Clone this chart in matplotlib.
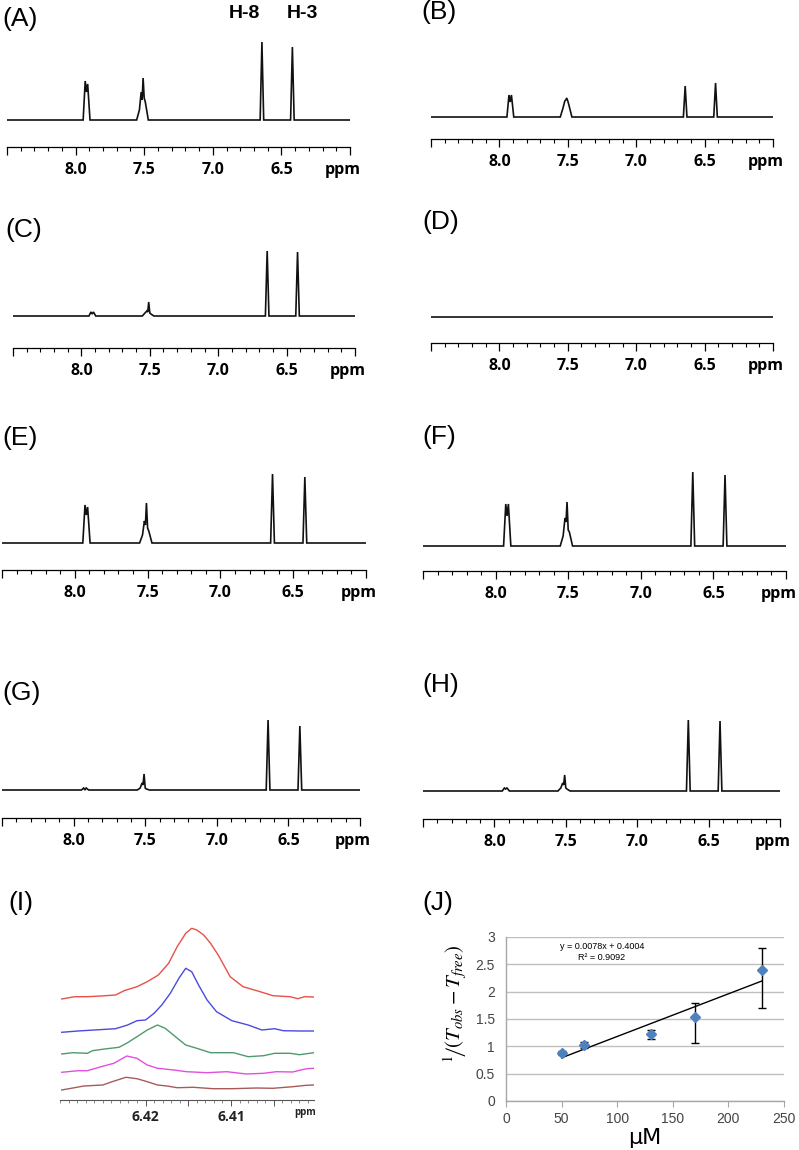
import matplotlib
matplotlib.use('Agg')
import matplotlib.pyplot as plt
from matplotlib.font_manager import FontProperties
from matplotlib.ticker import FixedLocator, MultipleLocator, FixedFormatter, NullFormatter

W, H = 799, 1150
fig = plt.figure(figsize=(W / 100, H / 100), dpi=100)
fig.patch.set_facecolor('white')

# ---------------- data: NMR spectra A-H (vertex ppm + intensities) ----------------
shift_ppm = [8.50, 7.945, 7.930, 7.921, 7.912, 7.895, 7.555, 7.535, 7.522, 7.515,
             7.508, 7.500, 7.492, 7.470, 6.655, 6.642, 6.629, 6.433, 6.420, 6.407, 6.00]
int_A = [0, 0, 39, 28, 36, 0, 0, 10, 28, 20, 42, 22, 18, 0, 0, 78, 0, 0, 73, 0, 0]
int_B = [0, 0, 22, 15, 22, 0, 0, 9, 16, 17, 19, 16, 12, 0, 0, 31, 0, 0, 34, 0, 0]
int_C = [0, 0, 4, 2, 4, 0, 0, 3, 5, 4, 14, 3, 2, 0, 0, 65, 0, 0, 64, 0, 0]
int_D = [0, 0, 0, 0, 0, 0, 0, 0, 0, 0, 0, 0, 0, 0, 0, 0, 0, 0, 0, 0, 0]
int_E = [0, 0, 38, 28, 36, 0, 0, 8, 22, 18, 40, 15, 12, 0, 0, 69, 0, 0, 66, 0, 0]
int_F = [0, 0, 42, 30, 42, 0, 0, 10, 28, 24, 44, 16, 14, 0, 0, 74, 0, 0, 71, 0, 0]
int_G = [0, 0, 2, 0, 2, 0, 0, 2, 7, 5, 16, 2, 1, 0, 0, 70, 0, 0, 64, 0, 0]
int_H = [0, 0, 3, 2, 3, 0, 0, 3, 8, 6, 16, 3, 2, 0, 0, 71, 0, 0, 70, 0, 0]
spec_labels = ['(A)', '(B)', '(C)', '(D)', '(E)', '(F)', '(G)', '(H)']
major_ppm = [8.5, 8.0, 7.5, 7.0, 6.5, 6.0]
major_lbl = ['', '8.0', '7.5', '7.0', '6.5', '']

# ---------------- data: panel I (H-3 region overlays) ----------------
red_ppm = [6.4298, 6.4283, 6.4268, 6.4252, 6.4235, 6.4225, 6.4210, 6.4198, 6.4185, 6.4173,
           6.4163, 6.4153, 6.4146, 6.4140, 6.4132, 6.4124, 6.4115, 6.4101, 6.4086, 6.4066,
           6.4051, 6.4031, 6.4022, 6.4014, 6.4003]
red_int = [101, 103.3, 103.3, 104, 105, 109.3, 113.3, 118.3, 125, 136.7,
           153.3, 166.7, 171.7, 170, 165, 156.7, 145, 123.3, 113.3, 108.3,
           104.3, 103.3, 101.3, 103.3, 103]
blue_ppm = [6.4298, 6.4279, 6.4260, 6.4235, 6.4221, 6.4210, 6.4200, 6.4190, 6.4181, 6.4171,
            6.4161, 6.4153, 6.4146, 6.4138, 6.4128, 6.4117, 6.4099, 6.4080, 6.4064, 6.4049,
            6.4039, 6.4020, 6.4003]
blue_int = [67.7, 69, 70, 71.3, 75, 79.3, 80, 86.7, 95, 106.7,
            121.7, 131.7, 128.3, 115, 100, 88.3, 79.3, 75, 70, 71.3,
            69.3, 69, 69]
green_ppm = [6.4298, 6.4285, 6.4268, 6.4262, 6.4248, 6.4231, 6.4221, 6.4210, 6.4198, 6.4186,
             6.4177, 6.4165, 6.4153, 6.4140, 6.4124, 6.4097, 6.4080, 6.4062, 6.4049, 6.4031,
             6.4020, 6.4003]
green_int = [46, 47.3, 46.7, 49.3, 51, 52.7, 57.3, 63.3, 70, 75,
             71.7, 63.3, 55, 51.7, 47.3, 47.3, 43.3, 44.3, 46.7, 46.7,
             45.3, 47.3]
magenta_ppm = [6.4298, 6.4279, 6.4268, 6.4252, 6.4237, 6.4222, 6.4210, 6.4198, 6.4186, 6.4167,
               6.4152, 6.4128, 6.4105, 6.4082, 6.4062, 6.4047, 6.4028, 6.4012, 6.4003]
magenta_int = [27.7, 29.3, 29.3, 33.3, 36.7, 44, 41.7, 35, 31.7, 30,
               28.3, 27.3, 28.3, 26, 26.7, 28.3, 28, 31.3, 31.7]
brown_ppm = [6.4298, 6.4272, 6.4250, 6.4239, 6.4223, 6.4210, 6.4198, 6.4186, 6.4175, 6.4163,
             6.4144, 6.4121, 6.4099, 6.4070, 6.4051, 6.4028, 6.4012, 6.4003]
brown_int = [10, 14, 15, 18.3, 22.7, 21.3, 18.3, 15, 14, 12.3,
             12.7, 11.3, 11.3, 12, 11.7, 13.3, 14.7, 15]

# ---------------- data: panel J ----------------
conc_uM = [50, 70, 130, 170, 230]
inv_dT = [0.88, 1.03, 1.22, 1.53, 2.39]
err_lo = [0.03, 0.06, 0.08, 0.46, 0.69]
err_hi = [0.03, 0.05, 0.07, 0.27, 0.41]
fit_slope, fit_icpt, fit_r2 = 0.0078, 0.4004, 0.9092
x_ticks_J = [0, 50, 100, 150, 200, 250]
y_ticks_J = [0, 0.5, 1, 1.5, 2, 2.5, 3]


def px_axes(L, T, R, B):
    return fig.add_axes([L / W, 1 - B / H, (R - L) / W, (B - T) / H])


def fig_text(x, y, s, **kw):
    return fig.text(x / W, 1 - y / H, s, **kw)


TICKFONT = dict(family='Open Sans', weight='bold', size=11.5)
LABELFONT = dict(family='Liberation Sans', size=19)

# layout of spectrum panels: (L, R, axisY, baselineY, labelX, labelY)
spec_layout = [
    (7, 350, 147, 120, 2, 19),
    (431, 773, 139, 117, 421, 12),
    (13, 355, 348, 316, 5, 230),
    (431, 773, 343, 317, 422, 222),
    (2, 366, 570, 543, 2, 438),
    (423, 786, 571, 546, 422, 437),
    (2, 360, 818, 790, 2, 693),
    (423, 780, 819, 791, 422, 685),
]
spectra = [int_A, int_B, int_C, int_D, int_E, int_F, int_G, int_H]

for lab, (L, R, ay, by, lx, ly), ints in zip(spec_labels, spec_layout, spectra):
    top = ay - 112
    ax = px_axes(L, top, R, ay)
    off = ay - by
    ax.plot(shift_ppm, ints, color='#111111', lw=1.2, solid_joinstyle='miter')
    ax.set_xlim(8.5, 6.0)
    ax.set_ylim(-off, -off + (ay - top))
    for s in ['left', 'right', 'top']:
        ax.spines[s].set_visible(False)
    ax.spines['bottom'].set_linewidth(0.9)
    ax.set_yticks([])
    ax.xaxis.set_major_locator(FixedLocator(major_ppm))
    ax.xaxis.set_major_formatter(FixedFormatter(major_lbl))
    ax.xaxis.set_minor_locator(MultipleLocator(0.1))
    ax.xaxis.set_minor_formatter(NullFormatter())
    ax.tick_params(axis='x', which='major', direction='out', length=6, width=0.9, pad=5)
    ax.tick_params(axis='x', which='minor', direction='out', length=3, width=0.8)
    for t in ax.get_xticklabels():
        t.set_fontproperties(FontProperties(**TICKFONT))
    ax.patch.set_alpha(0)
    hpx = ay - top
    ax.text(6.05, -23 / hpx, 'ppm', transform=ax.get_xaxis_transform(),
            ha='center', va='center', **TICKFONT)
    fig_text(lx, ly, lab, ha='left', va='center', **LABELFONT)

fig_text(244, 13, 'H-8', ha='center', va='center', family='Liberation Sans',
         weight='bold', size=14)
fig_text(302, 13, 'H-3', ha='center', va='center', family='Liberation Sans',
         weight='bold', size=14)

# ---------------- panel I ----------------
axI = px_axes(60, 920, 314, 1100)
for xs, ys, c in [(red_ppm, red_int, '#e8504a'), (blue_ppm, blue_int, '#4a4ae0'),
                  (green_ppm, green_int, '#4f9a6c'), (magenta_ppm, magenta_int, '#e050e0'),
                  (brown_ppm, brown_int, '#a85a5a')]:
    axI.plot(xs, ys, color=c, lw=1.0)
axI.set_xlim(6.4300, 6.4003)
axI.set_ylim(0, 180)
for s in ['left', 'right', 'top']:
    axI.spines[s].set_visible(False)
axI.spines['bottom'].set_color('#555555')
axI.spines['bottom'].set_linewidth(0.8)
axI.set_yticks([])
axI.xaxis.set_major_locator(FixedLocator([6.42, 6.415, 6.41, 6.405]))
axI.xaxis.set_major_formatter(FixedFormatter(['6.42', '', '6.41', '']))
axI.xaxis.set_minor_locator(MultipleLocator(0.001))
axI.tick_params(axis='x', which='major', direction='out', length=4, width=0.7,
                colors='#555555', labelcolor='#222222', pad=3)
axI.tick_params(axis='x', which='minor', direction='out', length=2, width=0.6, colors='#777777')
for t in axI.get_xticklabels():
    t.set_fontproperties(FontProperties(family='Open Sans', weight='bold', size=10))
axI.text(6.4013, -13 / 180, 'ppm', transform=axI.get_xaxis_transform(), ha='center',
         va='center', family='Open Sans', weight='bold', size=7, color='#222222')
fig_text(8, 903, '(I)', ha='left', va='center', **LABELFONT)

# ---------------- panel J ----------------
axJ = px_axes(506, 937, 784, 1101)
axJ.set_xlim(0, 250)
axJ.set_ylim(0, 3)
axJ.set_yticks(y_ticks_J)
axJ.set_xticks(x_ticks_J)
axJ.set_yticklabels(['0', '0.5', '1', '1.5', '2', '2.5', '3'])
axJ.grid(axis='y', color='#bfbfbf', lw=1.0)
axJ.set_axisbelow(True)
for s in ['right', 'top']:
    axJ.spines[s].set_visible(False)
for s in ['left', 'bottom']:
    axJ.spines[s].set_color('#a6a6a6')
    axJ.spines[s].set_linewidth(1.0)
axJ.tick_params(axis='x', direction='out', length=4, color='#a6a6a6', labelcolor='#444444',
                labelsize=10, pad=4)
axJ.tick_params(axis='y', length=0, labelcolor='#444444', labelsize=10, pad=8)
for t in axJ.get_xticklabels() + axJ.get_yticklabels():
    t.set_family('Liberation Sans')
fit_x = [conc_uM[0], conc_uM[-1]]
fit_y = [fit_slope * v + fit_icpt for v in fit_x]
axJ.plot(fit_x, fit_y, color='black', lw=1.0, zorder=3)
axJ.errorbar(conc_uM, inv_dT, yerr=[err_lo, err_hi], fmt='D', color='#4f81bd',
             ms=5.5, ecolor='black', elinewidth=1.0, capsize=3, capthick=1.0, zorder=4)
axJ.text(0.345, 0.94, 'y = %.4fx + %.4f' % (fit_slope, fit_icpt), transform=axJ.transAxes,
         ha='center', va='center', size=6.5, family='Liberation Sans')
axJ.text(0.345, 0.875, 'R² = %.4f' % fit_r2, transform=axJ.transAxes,
         ha='center', va='center', size=6.5, family='Liberation Sans')
axJ.set_xlabel('μM', family='DejaVu Sans', size=16, labelpad=1)
fig_text(455, 1004, r'${}^{1}\!\left/\left(T_{obs}-T_{free}\right)\right.$', rotation=90,
         ha='center', va='center', size=15, math_fontfamily='stix')
fig_text(422, 903, '(J)', ha='left', va='center', **LABELFONT)

fig.savefig('out.png', dpi=100, facecolor='white')
